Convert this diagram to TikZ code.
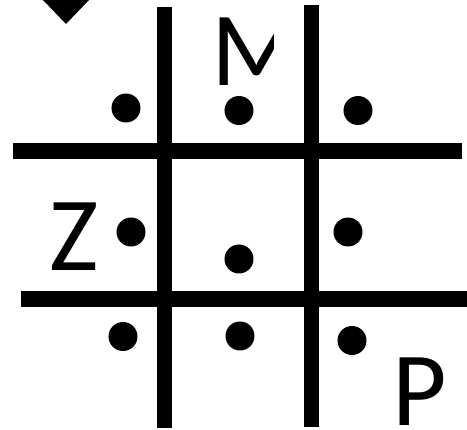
\documentclass[tikz,border=0pt]{standalone}
\usepackage{fontspec}
\setmainfont{Carlito}
\usepackage{tikz}
\usetikzlibrary{positioning,calc}

\begin{document}
\begin{tikzpicture}[
  bar/.style={line width=0.155cm},
  dot/.style={circle,fill,inner sep=0pt,minimum size=0.29cm},
  letter/.style={inner sep=0pt,font=\fontsize{30}{30}\selectfont}]
\useasboundingbox (0,0) rectangle (4.67,-4.30);
\clip (0,0) rectangle (4.67,-4.30);
% grid
\draw[bar] (1.645,-0.07)--(1.645,-4.28);
\draw[bar] (3.115,-0.05)--(3.115,-4.27);
\draw[bar] (0.13,-1.51)--(4.62,-1.51);
\draw[bar] (0.21,-2.99)--(4.67,-2.99);
% arrow head
\fill (0.43,0)--(0.89,0)--(0.66,-0.24)--cycle;
% dots
\node[dot] (tl) at (1.26,-1.08) {};
\node[dot] (tm) at (2.39,-1.105) {};
\node[dot] (tr) at (3.58,-1.105) {};
\node[dot] (ml) at (1.31,-2.32) {};
\node[dot] (mm) at (2.39,-2.59) {};
\node[dot] (mr) at (3.48,-2.32) {};
\node[dot] (bl) at (1.23,-3.365) {};
\node[dot] (bm) at (2.40,-3.36) {};
\node[dot] (br) at (3.52,-3.405) {};
% letters
\node[letter] (zed) at (0.745,-2.37) {Z};
\node[letter] (pee) at (4.20,-3.92) {P};
\begin{scope}
\clip (2.0,0) rectangle (2.74,-1.0);
\node[letter] (em) at (2.57,-0.52) {M};
\end{scope}
\end{tikzpicture}
\end{document}
